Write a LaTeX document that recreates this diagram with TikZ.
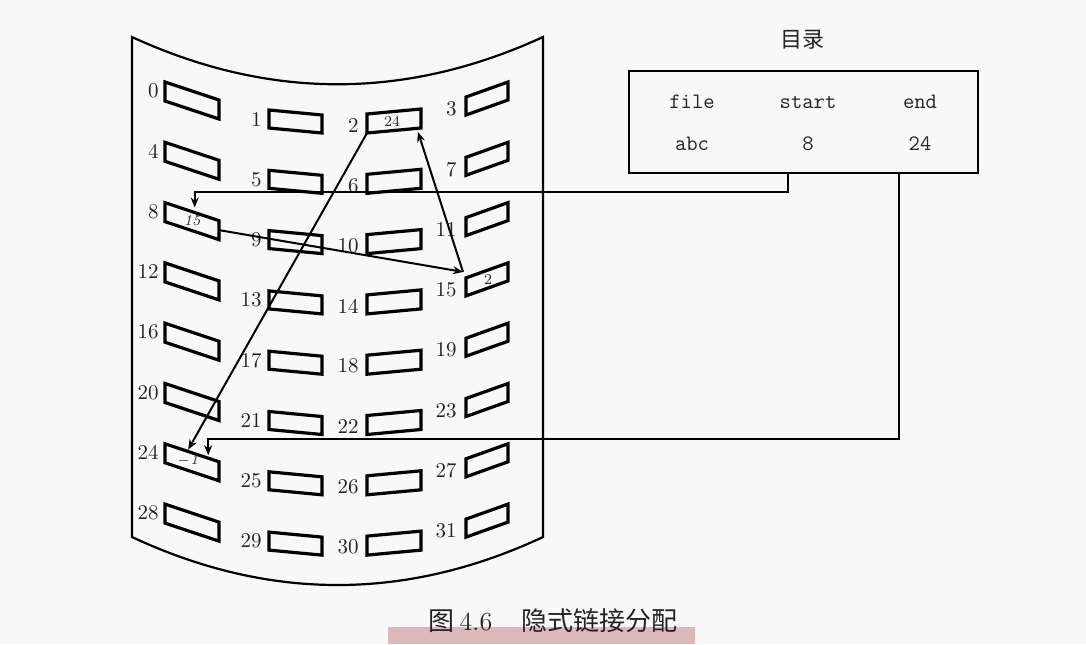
\documentclass[tikz,border=0pt]{standalone}
\usepackage{fontspec}
\newfontfamily\cjk{Noto Sans CJK SC}
\usetikzlibrary{arrows.meta,calc}
\definecolor{bg}{RGB}{248,248,248}
\definecolor{pinkbar}{RGB}{221,184,184}
\definecolor{ink}{RGB}{35,35,35}
\begin{document}
\begin{tikzpicture}[x=0.5pt,y=-0.5pt,
  sheet/.style={line width=1.1pt, draw=black},
  slot/.style={line width=1.6pt, line join=miter, draw=black},
  num/.style={inner sep=0pt, font=\fontsize{10.5}{12}\selectfont, text=ink},
  intxt/.style={inner sep=0pt, font=\fontsize{7.5}{9}\selectfont, text=ink},
  dirbox/.style={draw=black, line width=1.4pt, inner sep=0pt},
  dirtxt/.style={inner sep=0pt, font=\fontsize{11}{13}\selectfont\ttfamily, text=ink},
  cjktxt/.style={inner sep=0pt, font=\fontsize{11}{13}\selectfont\cjk, text=ink},
  arr/.style={line width=1pt, draw=black, -{Stealth[length=5pt,width=4pt]}}
]
% background
\fill[bg] (0,0) rectangle (1086,644);
\fill[pinkbar] (388,627) rectangle (695,644);

% curved sheet
\draw[sheet] (132,37) .. controls (269,100) and (406,100) .. (543,37) -- (543,537)
  .. controls (406,601) and (269,601) .. (132,537) -- cycle;

% slots and their numbers
\foreach \cc/\xs/\yo/\ww/\dd/\hh/\lg/\lo in {0/165/82/54/18/19/6/9, 1/269/110/53/5/18/7/9, 2/367/114/54/-5/19/8/11, 3/466/97/42/-15/18/9/12}{
  \foreach \r in {0,...,7}{
    \pgfmathtruncatemacro{\n}{4*\r+\cc}
    \pgfmathsetmacro{\yy}{\yo+60.3*\r}
    \coordinate (s\n-tl) at (\xs,\yy);
    \coordinate (s\n-tr) at ({\xs+\ww},{\yy+\dd});
    \coordinate (s\n-br) at ({\xs+\ww},{\yy+\dd+\hh});
    \coordinate (s\n-bl) at (\xs,{\yy+\hh});
    \draw[slot] (s\n-tl) -- (s\n-tr) -- (s\n-br) -- (s\n-bl) -- cycle;
    \node[num, anchor=east] (l\n) at ({\xs-\lg},{\yy+\lo}) {\n};
  }
}

% pointers stored in blocks
\node[intxt] (i2) at (392,121) {24};
\node[intxt, font=\fontsize{7.5}{9}\selectfont\itshape] (i8) at (192,221) {15};
\node[intxt] (i15) at (488,280) {2};
\node[intxt, font=\fontsize{7.5}{9}\selectfont\itshape] (i24) at (188,460) {$-$1};

% directory
\node[cjktxt] (title) at (802,40) {目录};
\node[dirbox, minimum width=174.5pt, minimum height=51pt] (dir) at (803.5,122) {};
\node[dirtxt] (hfile) at (692,102) {file};
\node[dirtxt] (hstart) at (808,102) {start};
\node[dirtxt] (hend) at (920,102) {end};
\node[dirtxt] (vabc) at (692,144) {abc};
\node[dirtxt] (v8) at (808,144) {8};
\node[dirtxt] (v24) at (920,144) {24};

% connectors
\coordinate (p8) at ($(s8-tl)!0.55!(s8-tr)+(0,-5)$);
\coordinate (o8) at ($(s8-tr)!0.5!(s8-br)$);
\coordinate (p15) at ($(s15-tl)+(-3,-6)$);
\coordinate (p2) at ($(s2-br)+(-3,4)$);
\coordinate (p24a) at ($(s24-tl)!0.43!(s24-tr)+(0,-2)$);
\coordinate (p24b) at ($(s24-tl)!0.8!(s24-tr)+(0,-3)$);

\draw[arr] ($(dir.south -| hstart)+(-20,0)$) -- ++(0,18) -| (p8);
\draw[arr] (o8) -- (p15);
\draw[arr] (p15) -- (p2);
\draw[arr] (s2-bl) -- (p24a);
\draw[arr] ($(dir.south -| hend)+(-21,0)$) -- ++(0,265) -| (p24b);

% caption
\node[inner sep=0pt, font=\fontsize{13}{15}\selectfont\cjk, text=ink] (capa) at (441,621) {图};
\node[inner sep=0pt, font=\fontsize{13}{15}\selectfont, text=ink] (capb) at (476,622) {4.6};
\node[inner sep=0pt, font=\fontsize{13}{15}\selectfont\cjk, text=ink] (capc) at (599,621) {隐式链接分配};
\end{tikzpicture}
\end{document}
